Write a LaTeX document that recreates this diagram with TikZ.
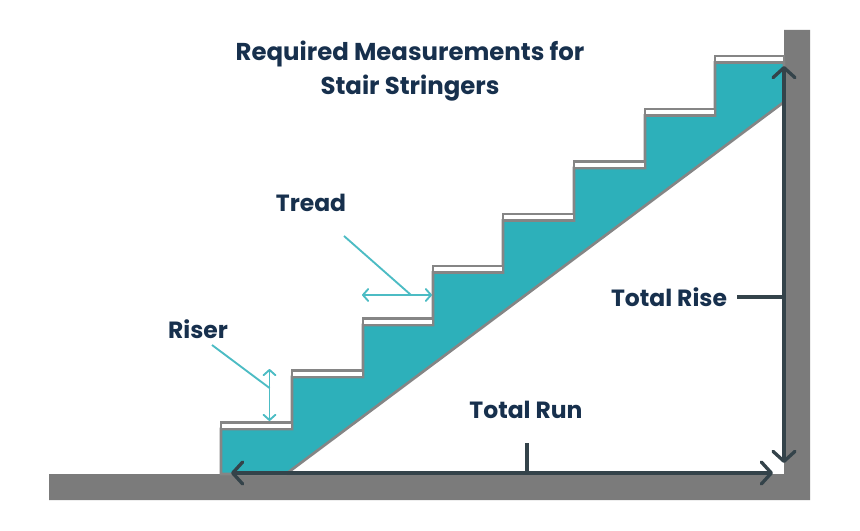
\documentclass[tikz,border=0pt]{standalone}
\usepackage{fontspec}
\setmainfont{Poppins}
\usetikzlibrary{arrows.meta}
\definecolor{wallgray}{HTML}{7B7B7B}
\definecolor{edgegray}{HTML}{858585}
\definecolor{stepteal}{HTML}{2DB0BA}
\definecolor{pointer}{HTML}{4CBCC4}
\definecolor{darkline}{HTML}{34434A}
\definecolor{navy}{HTML}{17304D}
\tikzset{
  x=.75pt,y=-.75pt,
  dim/.style={draw=darkline,line width=2.5pt,line cap=round,{Straight Barb[length=7.5pt,width=16.5pt,round]}-{Straight Barb[length=7.5pt,width=16.5pt,round]}},
  tick/.style={draw=darkline,line width=2.5pt},
  small/.style={draw=pointer,line width=1.4pt,{Straight Barb[length=4pt,width=9pt,round]}-{Straight Barb[length=4pt,width=9pt,round]}},
  lead/.style={draw=pointer,line width=1.4pt},
  label/.style={inner sep=0pt,text=navy,font=\fontsize{17.6pt}{25pt}\selectfont\bfseries},
  heading/.style={inner sep=0pt,text=navy,font=\fontsize{18.3pt}{25pt}\selectfont\bfseries},
  board/.style={draw=edgegray,line width=2.2pt,fill=white},
}
\begin{document}
\begin{tikzpicture}
\useasboundingbox (0,0) rectangle (860,531);
\fill[white] (0,0) rectangle (860,531);
% ground and wall
\fill[wallgray] (49,474) -- (784,474) -- (784,30) -- (810,30) -- (810,500) -- (49,500) -- cycle;
% stringer
\draw[fill=stepteal,draw=edgegray,line width=2pt,line join=miter]
  (221,474) -- (221,429) -- (292,429) -- (292,377) -- (363,377) -- (363,325) -- (433,325)
  -- (433,272.5) -- (503,272.5) -- (503,220.5) -- (574,220.5) -- (574,168) -- (645,168) -- (645,115.5)
  -- (715,115.5) -- (715,62.5) -- (784,62.5) -- (784,102) -- (286,474) -- cycle;
% treads
\draw[board] (221,422.5) rectangle (292,429);
\draw[board] (292,370.5) rectangle (363,377);
\draw[board] (363,318.5) rectangle (433,325);
\draw[board] (433,266) rectangle (503,272.5);
\draw[board] (503,214) rectangle (574,220.5);
\draw[board] (574,161.5) rectangle (645,168);
\draw[board] (645,109) rectangle (715,115.5);
\draw[board] (715,56) rectangle (784,62.5);
% named anchors
\coordinate (runL) at (231,473);
\coordinate (runR) at (773,473);
\coordinate (riseT) at (784,66);
\coordinate (riseB) at (784,463);
\coordinate (runT) at (527,443);
\coordinate (runM) at (527,473);
\coordinate (riseM) at (784,297);
\coordinate (riseS) at (737,297);
\coordinate (riserT) at (269.5,369);
\coordinate (riserB) at (269.5,421);
\coordinate (riserM) at (269.5,388);
\coordinate (treadL) at (362,295);
\coordinate (treadR) at (432,295);
\coordinate (treadM) at (411,295);
\coordinate (riserS) at (212,345);
\coordinate (treadS) at (344,236);
% labels
\node[heading,align=center] (title) at (410,71) {Required Measurements for\\Stair Stringers};
\node[label] (tread) at (311,203) {Tread};
\node[label] (riser) at (198,329) {Riser};
\node[label] (rise) at (669,297) {Total Rise};
\node[label] (run) at (526,410) {Total Run};
% connectors
\draw[tick] (runT) -- (runM);
\draw[tick] (riseS) -- (riseM);
\draw[dim] (runL) -- (runR);
\draw[dim] (riseT) -- (riseB);
\draw[small] (riserT) -- (riserB);
\draw[small] (treadL) -- (treadR);
\draw[lead] (riserS) -- (riserM);
\draw[lead] (treadS) -- (treadM);
\end{tikzpicture}
\end{document}
